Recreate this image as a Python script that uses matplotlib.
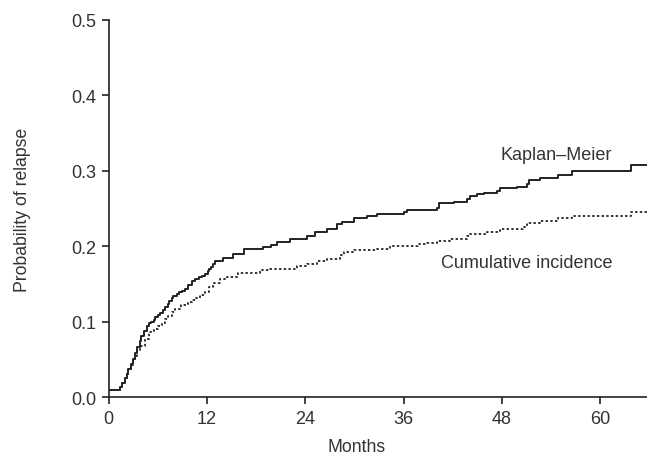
import matplotlib
matplotlib.use('Agg')
import matplotlib.pyplot as plt

# Kaplan-Meier estimate (step, value holds from each time onward)
km_months = [0, 1.4, 1.7, 2.0, 2.2, 2.4, 2.7, 3.0, 3.2, 3.5, 3.8, 4.0, 4.3, 4.7, 5.0, 5.2,
             5.5, 5.7, 6.0, 6.3, 6.6, 6.9, 7.2, 7.4, 7.7, 7.9, 8.3, 8.6, 9.0, 9.3, 9.7, 10.2,
             10.6, 11.0, 11.4, 11.8, 12.1, 12.3, 12.5, 12.7, 13.0, 14.0, 15.2, 16.5, 18.9,
             19.8, 20.5, 22.2, 24.2, 25.2, 26.6, 27.9, 28.5, 29.9, 31.5, 32.7, 36.0, 36.4,
             40.1, 40.3, 42.1, 43.7, 44.1, 45.0, 45.8, 47.4, 47.8, 49.8, 51.1, 51.3, 52.6,
             54.9, 56.6, 63.7, 65.7]
km_prob = [0.010, 0.013, 0.019, 0.025, 0.031, 0.037, 0.044, 0.051, 0.058, 0.066, 0.074,
           0.081, 0.088, 0.095, 0.098, 0.100, 0.103, 0.106, 0.109, 0.112, 0.116, 0.119,
           0.123, 0.127, 0.131, 0.134, 0.137, 0.139, 0.141, 0.143, 0.149, 0.154, 0.157,
           0.159, 0.161, 0.163, 0.167, 0.170, 0.173, 0.176, 0.180, 0.184, 0.190, 0.196,
           0.199, 0.202, 0.205, 0.209, 0.214, 0.219, 0.223, 0.229, 0.232, 0.238, 0.240,
           0.243, 0.245, 0.248, 0.251, 0.257, 0.259, 0.263, 0.266, 0.269, 0.271, 0.273,
           0.277, 0.279, 0.282, 0.288, 0.290, 0.294, 0.300, 0.308, 0.308]

# cumulative incidence estimate
ci_months = [0, 1.4, 1.7, 2.0, 2.2, 2.4, 2.7, 3.0, 3.2, 3.5, 3.8, 4.0, 4.4, 4.9, 5.2, 5.6,
             6.0, 6.5, 6.9, 7.3, 7.7, 8.1, 8.9, 9.7, 10.2, 10.7, 11.2, 11.8, 12.3, 12.8,
             13.6, 14.4, 15.8, 18.5, 19.7, 23.0, 24.2, 25.4, 26.6, 28.3, 28.7, 29.9, 32.7,
             34.4, 36.4, 37.8, 38.9, 40.1, 41.7, 43.7, 44.1, 46.2, 47.8, 50.6, 51.1, 52.7,
             54.9, 56.6, 63.7, 65.7]
ci_prob = [0.010, 0.013, 0.019, 0.025, 0.031, 0.037, 0.043, 0.050, 0.055, 0.061, 0.065,
           0.068, 0.077, 0.086, 0.088, 0.091, 0.095, 0.099, 0.104, 0.108, 0.113, 0.117,
           0.122, 0.126, 0.129, 0.132, 0.135, 0.139, 0.146, 0.152, 0.156, 0.159, 0.165,
           0.168, 0.170, 0.174, 0.177, 0.181, 0.183, 0.188, 0.192, 0.195, 0.197, 0.200,
           0.201, 0.203, 0.204, 0.207, 0.210, 0.213, 0.216, 0.219, 0.223, 0.225, 0.231,
           0.234, 0.237, 0.240, 0.246, 0.246]

x_ticks = [0, 12, 24, 36, 48, 60]
y_ticks = [0.0, 0.1, 0.2, 0.3, 0.4, 0.5]

plt.rcParams['font.family'] = ['Liberation Sans', 'DejaVu Sans']
plt.rcParams['font.size'] = 13
txt = '#333333'
ink = '#222222'

fig = plt.figure(figsize=(6.47, 4.56), dpi=100)
ax = fig.add_axes([108.5 / 647, (456 - 398.3) / 456, (647 - 108.5) / 647, (398.3 - 20.7) / 456])

ax.step(km_months, km_prob, where='post', color=ink, lw=1.4)
ax.step(ci_months, ci_prob, where='post', color=ink, lw=1.3, linestyle=(0, (1.3, 1.3)))

ax.set_xlim(0, 65.7)
ax.set_ylim(0, 0.5)
ax.set_xticks(x_ticks)
ax.set_yticks(y_ticks)
ax.set_yticklabels(['%.1f' % v for v in y_ticks])
for s in ['top', 'right']:
    ax.spines[s].set_visible(False)
for s in ['left', 'bottom']:
    ax.spines[s].set_color(ink)
    ax.spines[s].set_linewidth(1.2)
ax.tick_params(direction='out', length=5, width=1.2, color=ink, labelcolor=txt, pad=4)

ax.set_ylabel('Probability of relapse', color=txt, fontsize=12.7)
ax.yaxis.set_label_coords(-0.143, 0.5)
fig.text(357 / 647, 1 - 448 / 456, 'Months', ha='center', va='center', color=txt, fontsize=12.7)

ax.text(54.6, 0.322, 'Kaplan\u2013Meier', ha='center', va='center', color=txt)
ax.text(51.0, 0.1786, 'Cumulative incidence', ha='center', va='center', color=txt)

fig.savefig('out.png', dpi=100)
